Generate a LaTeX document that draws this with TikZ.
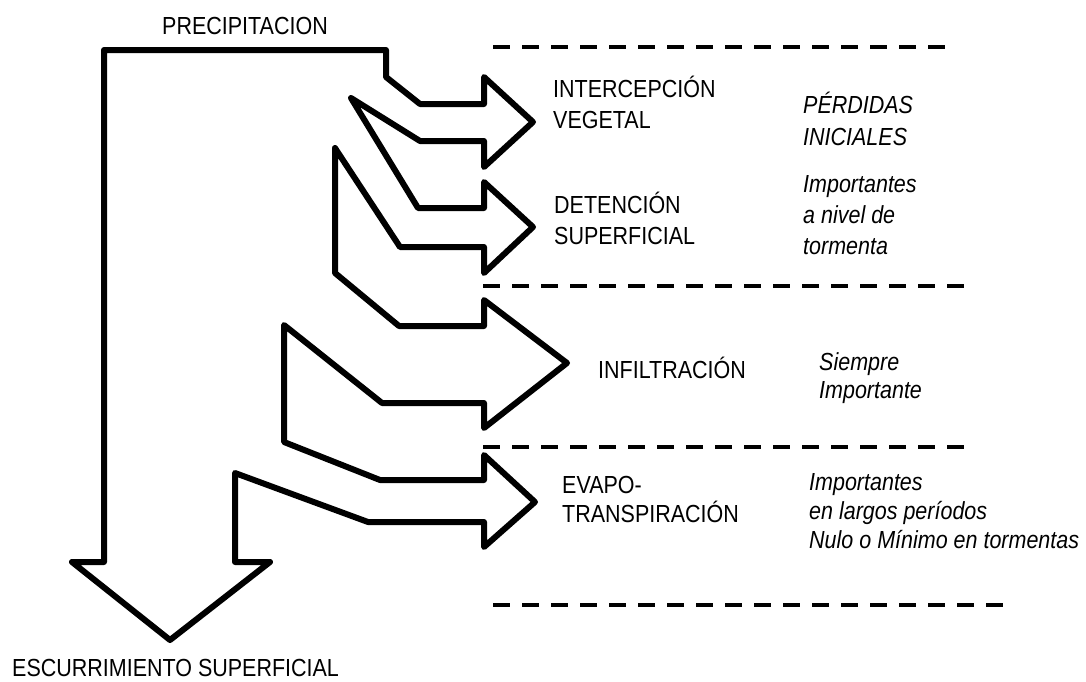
\documentclass[tikz,border=0pt]{standalone}
\usepackage{fontspec}
\setmainfont[FakeStretch=0.87]{Liberation Sans}

\begin{document}
\begin{tikzpicture}[x=1pt,y=-1pt,
		contorno/.style={line width=6pt, line join=round},
		divisor/.style={line width=4.5pt, dash pattern=on 17pt off 12pt},
		rotulo/.style={anchor=base west, align=left, inner sep=0pt, font=\fontsize{24.7}{31}\selectfont},
		nota/.style={rotulo, font=\fontsize{24.7}{31}\selectfont\itshape}]
		\useasboundingbox (0,0) rectangle (1086,681);

		%FLECHAS
		\draw[contorno] (104,50) -- (386,50) -- (386,77) -- (420,104) -- (484,104) -- (484,77) -- (533,122)
			-- (484,167) -- (484,141) -- (420,141) -- (351,98) -- (418,208) -- (484,208) -- (484,182)
			-- (533,227) -- (484,273) -- (484,247) -- (400,247) -- (335,148) -- (335,273) -- (399,326)
			-- (484,326) -- (484,300) -- (567,363) -- (484,428) -- (484,403) -- (382,403) -- (284,325)
			-- (284,442) -- (380,480) -- (484,480) -- (484,455) -- (535,502) -- (484,547) -- (484,522)
			-- (368,522) -- (235,473) -- (235,562) -- (270,562) -- (170,640) -- (72,562) -- (104,562) -- cycle;

		%DIVISORES
		\foreach \xa/\xb/\y in {493/955/47, 483/973/286, 483/973/447, 493/1013/605}{
			\draw[divisor] (\xa,\y) -- (\xb,\y);
		}

		%PROCESOS (base = ultima linea)
		\node[rotulo] (prec) at (162,34) {PRECIPITACION};
		\node[rotulo] (escu) at (12,676) {ESCURRIMIENTO SUPERFICIAL};
		\node[rotulo] (inter) at (553,128) {INTERCEPCIÓN\\VEGETAL};
		\node[rotulo] (deten) at (554,244) {DETENCIÓN\\SUPERFICIAL};
		\node[rotulo] (infil) at (598,378) {INFILTRACIÓN};
		\node[rotulo, font=\fontsize{24.7}{29}\selectfont] (evapo) at (562,522) {EVAPO-\\TRANSPIRACIÓN};

		%IMPORTANCIA
		\node[nota, font=\fontsize{24.7}{32}\selectfont\itshape] (perd) at (803,145) {PÉRDIDAS\\INICIALES};
		\node[nota] (torm) at (803,254) {Importantes\\a nivel de\\tormenta};
		\node[nota, font=\fontsize{24.7}{28}\selectfont\itshape] (siem) at (819,398) {Siempre\\Importante};
		\node[nota, font=\fontsize{24.7}{29}\selectfont\itshape] (larg) at (809,548) {Importantes\\en largos períodos\\Nulo o Mínimo en tormentas};
	\end{tikzpicture}
\end{document}
